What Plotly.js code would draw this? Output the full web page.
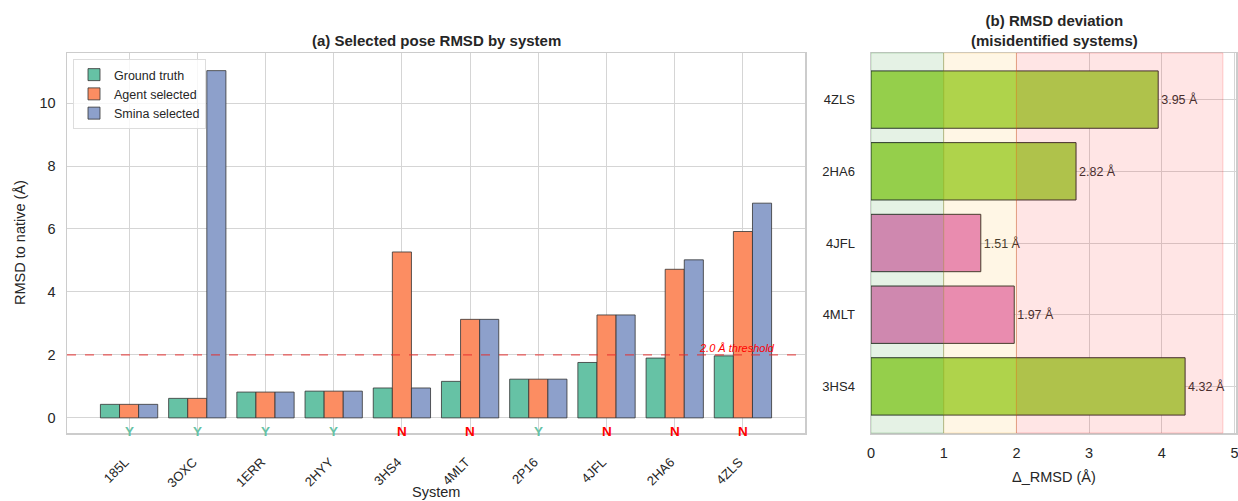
<!DOCTYPE html>
<html>
<head>
<meta charset="utf-8">
<script src="https://cdn.plot.ly/plotly-3.0.1.min.js"></script>
<style>
  html, body { margin: 0; padding: 0; background: #fff; }
  #chart { width: 1238px; height: 501px; }
</style>
</head>
<body>
<div id="chart"></div>
<script>
// Systems and RMSD (Å) of the pose chosen by each method
const systems = ['185L', '3OXC', '1ERR', '2HYY', '3HS4', '4MLT', '2P16', '4JFL', '2HA6', '4ZLS'];
const groundTruth = [0.43, 0.62, 0.82, 0.85, 0.95, 1.16, 1.23, 1.76, 1.90, 1.97];
const agentSelected = [0.43, 0.62, 0.82, 0.85, 5.27, 3.13, 1.23, 3.27, 4.72, 5.92];
const sminaSelected = [0.43, 11.03, 0.82, 0.85, 0.95, 3.13, 1.23, 3.27, 5.02, 6.82];
const threshold = 2.0;

const COL_GT = '#66c2a5', COL_AGENT = '#fc8d62', COL_SMINA = '#8da0cb';
const COL_HIGH = '#a6d854', COL_LOW = '#e78ac3';
const FONT = 'Liberation Sans, Arial, sans-serif';
const GRID = '#d5d5d5';
const INK = '#262626';

// Correct pick when the agent chose the ground-truth pose
const correct = systems.map((s, i) => agentSelected[i] === groundTruth[i]);

// Misidentified systems and their RMSD excess
const missed = systems.filter((s, i) => !correct[i]);
const deltas = systems.map((s, i) => agentSelected[i] - groundTruth[i]).filter((d, i) => !correct[i]);

const barLine = { color: '#333333', width: 0.8 };

const traces = [
  { type: 'bar', name: 'Ground truth', x: systems, y: groundTruth, marker: { color: COL_GT, line: barLine }, xaxis: 'x', yaxis: 'y' },
  { type: 'bar', name: 'Agent selected', x: systems, y: agentSelected, marker: { color: COL_AGENT, line: barLine }, xaxis: 'x', yaxis: 'y' },
  { type: 'bar', name: 'Smina selected', x: systems, y: sminaSelected, marker: { color: COL_SMINA, line: barLine }, xaxis: 'x', yaxis: 'y' },
  {
    type: 'bar', orientation: 'h', x: deltas, y: missed, width: 0.8, showlegend: false,
    marker: { color: deltas.map(d => d >= threshold ? COL_HIGH : COL_LOW), line: { color: '#333333', width: 1 } },
    text: deltas.map(d => d.toFixed(2) + ' Å'), textposition: 'outside', cliponaxis: false,
    textfont: { size: 12.5, color: '#333333', family: FONT },
    xaxis: 'x2', yaxis: 'y2'
  }
];

function paperText(text, px, py, size, extra) {
  return Object.assign({
    text: text, xref: 'paper', yref: 'paper', x: px / 1238, y: 1 - py / 501,
    xanchor: 'center', yanchor: 'middle', showarrow: false, font: { size: size, color: INK }
  }, extra || {});
}

const annotations = [
  paperText('<b>(a) Selected pose RMSD by system</b>', 436, 40, 15),
  paperText('<b>(b) RMSD deviation<br>(misidentified systems)</b>', 1054, 30, 15),
  paperText('RMSD to native (Å)', 20, 243, 14.5, { textangle: -90 }),
  paperText('System', 436, 492, 14.5),
  paperText('Δ_RMSD (Å)', 1054, 477, 14.5),
  { text: '<i>' + threshold.toFixed(1) + ' Å threshold</i>', xref: 'x', yref: 'y', x: 9.5, y: threshold, xanchor: 'right', yanchor: 'bottom', yshift: -1, showarrow: false, font: { size: 11, color: '#ff0000' } }
];
systems.forEach((s, i) => {
  annotations.push({
    text: '<b>' + (correct[i] ? 'Y' : 'N') + '</b>', xref: 'x', yref: 'y', x: s, y: -0.44,
    xanchor: 'center', yanchor: 'middle',
    showarrow: false, font: { size: 13.5, color: correct[i] ? COL_GT : '#ff0000' }
  });
});

const shapes = [
  { type: 'line', xref: 'x domain', yref: 'y', x0: 0, x1: 1, y0: threshold, y1: threshold, line: { color: 'rgba(230,40,40,0.75)', width: 1.2, dash: 'dash' } },
  { type: 'rect', xref: 'x2', yref: 'y2 domain', x0: 0, x1: 1, y0: 0, y1: 1, layer: 'above', fillcolor: 'rgba(0,128,0,0.1)', line: { color: 'rgba(0,128,0,0.18)', width: 1 } },
  { type: 'rect', xref: 'x2', yref: 'y2 domain', x0: 1, x1: 2, y0: 0, y1: 1, layer: 'above', fillcolor: 'rgba(255,165,0,0.1)', line: { color: 'rgba(255,165,0,0.18)', width: 1 } },
  { type: 'rect', xref: 'x2', yref: 'y2 domain', x0: 2, x1: 4.84, y0: 0, y1: 1, layer: 'above', fillcolor: 'rgba(255,0,0,0.1)', line: { color: 'rgba(255,0,0,0.18)', width: 1 } }
];

const axisCommon = {
  showline: true, mirror: true, linecolor: '#cccccc', linewidth: 1.5,
  showgrid: true, gridcolor: GRID, gridwidth: 1, zeroline: false, ticks: '',
  automargin: false, tickfont: { size: 14.5, color: INK }
};

const layout = {
  width: 1238, height: 501,
  margin: { l: 0, r: 0, t: 0, b: 0 },
  paper_bgcolor: '#ffffff', plot_bgcolor: '#ffffff',
  font: { family: FONT, color: INK },
  barmode: 'group', bargap: 0.16, bargroupgap: 0,
  showlegend: true,
  legend: {
    x: 73 / 1238, y: 1 - 59 / 501, xanchor: 'left', yanchor: 'top',
    bgcolor: 'rgba(255,255,255,0.8)', bordercolor: '#dddddd', borderwidth: 1,
    font: { size: 12.5, color: INK }, tracegroupgap: 0, itemwidth: 30
  },
  xaxis: Object.assign({}, axisCommon, {
    domain: [67 / 1238, 805 / 1238], anchor: 'y', type: 'category',
    categoryorder: 'array', categoryarray: systems, range: [-0.91, 9.91],
    tickangle: -45, tickfont: { size: 13, color: INK }, ticklabelstandoff: 15, ticklabelshift: -4
  }),
  yaxis: Object.assign({}, axisCommon, {
    domain: [1 - 433 / 501, 1 - 53 / 501], anchor: 'x', range: [-0.48, 11.59],
    tickvals: [0, 2, 4, 6, 8, 10], ticklabelstandoff: 7
  }),
  xaxis2: Object.assign({}, axisCommon, {
    domain: [871 / 1238, 1236 / 1238], anchor: 'y2', range: [0, 5.02],
    tickvals: [0, 1, 2, 3, 4, 5], ticklabelstandoff: 6, ticklabeloverflow: 'allow'
  }),
  yaxis2: Object.assign({}, axisCommon, {
    domain: [1 - 433 / 501, 1 - 53 / 501], anchor: 'x2', type: 'category',
    categoryorder: 'array', categoryarray: missed, range: [-0.65, 4.65],
    tickfont: { size: 13, color: INK }, ticklabelstandoff: 12
  }),
  annotations: annotations,
  shapes: shapes
};

Plotly.newPlot('chart', traces, layout, { displayModeBar: false, staticPlot: true });
</script>
</body>
</html>
